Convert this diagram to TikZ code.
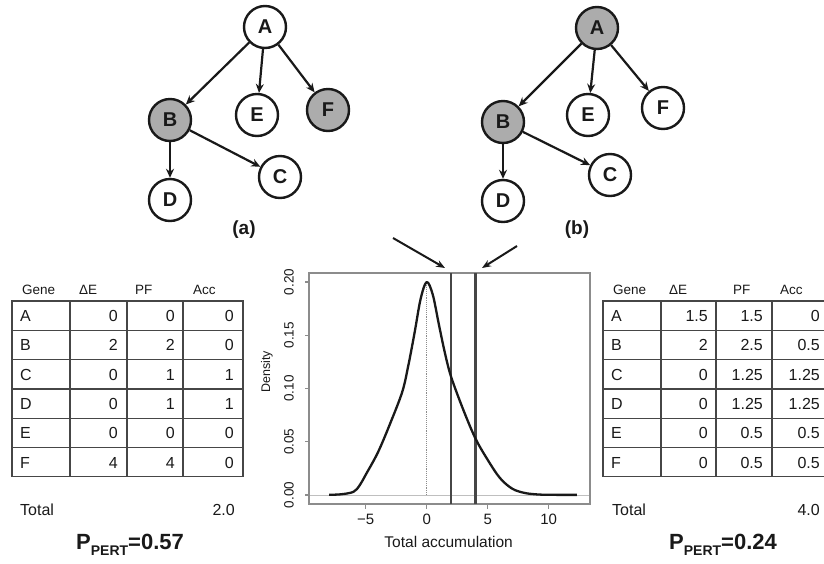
\documentclass[tikz,border=0pt]{standalone}
\usepackage{fontspec}
\setmainfont{Liberation Sans}
\usetikzlibrary{arrows.meta}
\definecolor{nodeshade}{RGB}{172,172,172}
\definecolor{rulegray}{RGB}{70,70,70}
\definecolor{framegray}{RGB}{140,140,140}
\definecolor{ink}{RGB}{25,25,25}
\newcommand\fsz[1]{\fontsize{#1}{#1}\selectfont}

\begin{document}
\begin{tikzpicture}[x=1pt,y=-1pt,
  gnode/.style={circle,draw=ink,line width=2.4pt,minimum size=42pt,inner sep=0pt,fill=white,text=ink,font=\bfseries\fsz{20}},
  hit/.style={gnode,fill=nodeshade},
  edge/.style={draw=ink,line width=2.2pt,-{Stealth[length=9pt,width=8pt]}},
  sublbl/.style={text=ink,font=\bfseries\fsz{19}},
  hdr/.style={anchor=west,text=ink,font=\fsz{13.5},inner sep=0pt},
  cellL/.style={anchor=west,text=ink,font=\fsz{16},inner sep=0pt},
  cellR/.style={anchor=east,text=ink,font=\fsz{16},inner sep=0pt},
  tablegrid/.style={draw=rulegray,line width=1.3pt},
  pval/.style={text=ink,font=\bfseries\fsz{22}},
  plotframe/.style={draw=framegray,line width=1.2pt},
  ticklbl/.style={text=ink,font=\fsz{15}},
  yticklbl/.style={text=ink,font=\fsz{13.5},rotate=90},
  axislbl/.style={text=ink,font=\fsz{15.5}},
  densitycurve/.style={draw=ink,line width=2.3pt,line join=round},
  markline/.style={draw=rulegray,line width=2.3pt},
  pointer/.style={draw=ink,line width=2pt,-{Stealth[length=9pt,width=7pt]}}
]
\useasboundingbox (0,0) rectangle (824,563);

% ---------- graph (a) ----------
\node[gnode] (aA) at (265,27)  {A};
\node[hit]   (aB) at (170,120) {B};
\node[gnode] (aE) at (257,115) {E};
\node[hit]   (aF) at (328,110) {F};
\node[gnode] (aC) at (280,177) {C};
\node[gnode] (aD) at (170,200) {D};
\draw[edge] (aA) -- (aB);
\draw[edge] (aA) -- (aE);
\draw[edge] (aA) -- (aF);
\draw[edge] (aB) -- (aD);
\draw[edge] (aB) -- (aC);
\node[sublbl] (alabel) at (244,230) {(a)};

% ---------- graph (b) ----------
\node[hit]   (bA) at (597,28)  {A};
\node[hit]   (bB) at (503,122) {B};
\node[gnode] (bE) at (588,115) {E};
\node[gnode] (bF) at (663,108) {F};
\node[gnode] (bC) at (610,175) {C};
\node[gnode] (bD) at (503,201) {D};
\draw[edge] (bA) -- (bB);
\draw[edge] (bA) -- (bE);
\draw[edge] (bA) -- (bF);
\draw[edge] (bB) -- (bD);
\draw[edge] (bB) -- (bC);
\node[sublbl] (blabel) at (577,230) {(b)};

% ---------- left table ----------
\node[hdr] (lh1) at (22,290)  {Gene};
\node[hdr] (lh2) at (79,290)  {ΔE};
\node[hdr] (lh3) at (135,290) {PF};
\node[hdr] (lh4) at (193,290) {Acc};
\draw[tablegrid] (12,301) rectangle (243,476.8);
\foreach \xx in {70,127,183} \draw[tablegrid] (\xx,301) -- (\xx,476.8);
\foreach \k in {1,...,5} \draw[tablegrid] (12,301+29.3*\k) -- (243,301+29.3*\k);
\foreach \g/\de/\pf/\ac [count=\i from 0] in {A/0/0/0,B/2/2/0,C/0/1/1,D/0/1/1,E/0/0/0,F/4/4/0} {
  \pgfmathsetmacro\yy{316+29.3*\i}
  \node[cellL] (lg\i) at (20,\yy)  {\g};
  \node[cellR] (ld\i) at (118,\yy) {\de};
  \node[cellR] (lp\i) at (175,\yy) {\pf};
  \node[cellR] (la\i) at (234,\yy) {\ac};
}
\node[cellL] (ltotal) at (20,510) {Total};
\node[cellR] (ltotv)  at (235,510) {2.0};
\node[pval] (lpert) at (130,545) {P\raisebox{-0.3em}{\fsz{14}PERT}=0.57};

% ---------- right table ----------
\node[hdr] (rh1) at (613,290) {Gene};
\node[hdr] (rh2) at (669,290) {ΔE};
\node[hdr] (rh3) at (733,290) {PF};
\node[hdr] (rh4) at (780,290) {Acc};
\draw[tablegrid] (603,301) rectangle (830,476.8);
\foreach \xx in {661,716,772} \draw[tablegrid] (\xx,301) -- (\xx,476.8);
\foreach \k in {1,...,5} \draw[tablegrid] (603,301+29.3*\k) -- (830,301+29.3*\k);
\foreach \g/\de/\pf/\ac [count=\i from 0] in {A/1.5/1.5/0,B/2/2.5/0.5,C/0/1.25/1.25,D/0/1.25/1.25,E/0/0.5/0.5,F/0/0.5/0.5} {
  \pgfmathsetmacro\yy{316+29.3*\i}
  \node[cellL] (rg\i) at (611,\yy) {\g};
  \node[cellR] (rd\i) at (708,\yy) {\de};
  \node[cellR] (rp\i) at (763,\yy) {\pf};
  \node[cellR] (ra\i) at (820,\yy) {\ac};
}
\node[cellL] (rtotal) at (612,510) {Total};
\node[cellR] (rtotv)  at (820,510) {4.0};
\node[pval] (rpert) at (723,545) {P\raisebox{-0.3em}{\fsz{14}PERT}=0.24};

% ---------- density plot ----------
\begin{scope}[shift={(426.7,495)},x=12.2pt,y=1065pt]
  \coordinate (pbl) at (-9.65,-0.0085);
  \coordinate (ptr) at (13.39,0.2085);
  % zero reference lines
  \draw[black!25,line width=0.8pt] (-9.65,0) -- (13.39,0);
  \draw[black!45,line width=0.9pt,densely dotted] (0,0) -- (0,0.2);
  % frame and ticks
  \draw[plotframe] (pbl) rectangle (ptr);
  \foreach \v/\t in {-5/−5,0/0,5/5,10/10} {
    \draw[plotframe] (\v,-0.0085) -- ++(0,-5pt);
    \node[ticklbl] (xt\v) at (\v,-0.0225) {\t};
  }
  \foreach \v/\t in {0/0.00,0.05/0.05,0.1/0.10,0.15/0.15,0.2/0.20} {
    \draw[plotframe] (-9.65,\v) -- ++(-4pt,0);
    \node[yticklbl] (yt\t) at (-11.29,\v) {\t};
  }
  \node[yticklbl,font=\fsz{12.5}] (ylab) at (-13.09,0.1155) {Density};
  \node[axislbl] (xlab) at (1.8,-0.0441) {Total accumulation};
  % observed totals
  \draw[markline] (2,-0.0085) -- (2,0.2085) coordinate (m1top);
  \draw[markline] (4,-0.0085) -- (4,0.2085) coordinate (m2top);
  % density estimate
  \draw[densitycurve] plot[smooth,tension=0.55] coordinates {
    (-8,0.0002) (-7,0.0007) (-6,0.003) (-5.5,0.009) (-5,0.019) (-4,0.040)
    (-3,0.067) (-2,0.097) (-1.5,0.122) (-1,0.152) (-0.5,0.184) (0,0.200)
    (0.5,0.188) (1,0.160) (1.5,0.133) (2,0.111) (3,0.080) (4,0.053)
    (5,0.033) (6,0.016) (7,0.006) (8,0.002) (9,0.0006) (10,0.0002) (12.3,0.0001)};
\end{scope}

% ---------- pointers to the observed totals ----------
\coordinate (p1s) at (393,238);
\coordinate (p1e) at (445,268);
\coordinate (p2s) at (517,246);
\coordinate (p2e) at (482,268);
\draw[pointer] (p1s) -- (p1e);
\draw[pointer] (p2s) -- (p2e);
\end{tikzpicture}
\end{document}
